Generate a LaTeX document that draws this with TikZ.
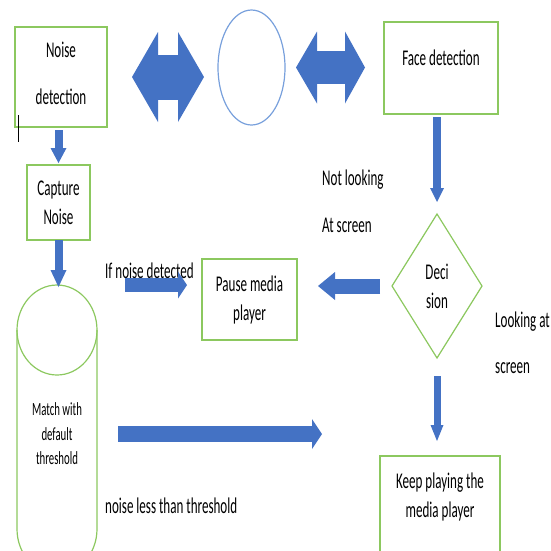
\documentclass[tikz,border=0pt]{standalone}
\usepackage{fontspec}
\setmainfont{Carlito}[FakeStretch=0.58]
\usetikzlibrary{calc,arrows.meta,shapes.geometric}
\definecolor{boxgreen}{RGB}{140,200,95}
\definecolor{arrowblue}{RGB}{68,114,196}
\definecolor{ringblue}{RGB}{120,160,220}
\tikzset{
  box/.style={draw=boxgreen,line width=1.2pt,fill=white,align=center,
    inner sep=0pt,outer sep=0pt,font=\fontsize{22.5}{29}\selectfont},
  decbox/.style={box,diamond},
  blk/.style={draw=arrowblue,line width=#1},
  txt/.style={inner sep=0pt,align=left,font=\fontsize{22.5}{29}\selectfont}
}

\begin{document}
\begin{tikzpicture}[x=1pt,y=-1pt]
\useasboundingbox (0,0) rectangle (551,550);
\clip (0,0) rectangle (551,550);

% Top row: noise detection, hub, face detection
\node[box,minimum width=92pt,minimum height=100pt,text depth=8pt] (noise) at (61,77) {Noise\\[18pt]detection};
\node[draw=ringblue,line width=1.2pt,ellipse,minimum width=67pt,minimum height=115pt,inner sep=0pt,outer sep=0pt] (hub) at (251.5,67.5) {};
\node[box,minimum width=114pt,minimum height=92pt,text height=14pt,text depth=20pt] (face) at (441,68) {Face detection};
\draw[line width=0.8pt] (18,115) -- (18,142);

% Left column
\node[box,minimum width=63pt,minimum height=75pt] (capture) at (58.5,202.5) {Capture\\Noise};
\node[inner sep=0pt,outer sep=0pt,minimum width=80pt,minimum height=298pt,align=center,
  font=\fontsize{18.6}{24.5}\selectfont] (match) at (57,434) {Match with\\default\\threshold};
\draw[boxgreen,line width=1.2pt] (17,330) arc[start angle=180,end angle=0,x radius=40pt,y radius=45pt]
  -- (97,529) arc[start angle=0,end angle=-180,x radius=40pt,y radius=45pt] -- cycle;
\draw[boxgreen,line width=1.2pt] (17,330) arc[start angle=180,end angle=360,x radius=40pt,y radius=45pt];

% Middle and right
\node[box,minimum width=95pt,minimum height=81pt] (pause) at (249.5,299.5) {Pause media\\player};
\node[decbox,minimum width=90pt,minimum height=144pt] (dec) at (437,286) {Deci\\sion};
\node[box,anchor=north,minimum width=120pt,inner ysep=17pt,text depth=90pt] (keep) at (440,456) {Keep playing the\\media player};

% Free labels
\node[txt,anchor=west] (notlook) at (322,201.5) {Not looking\\[18pt]At screen};
\node[txt,anchor=west] (look) at (495,342.5) {Looking at\\[17pt]screen};
\node[txt,anchor=base west] (ifnoise) at (105,278) {If noise detected};
\node[txt,anchor=base west] (less) at (105,513) {noise less than threshold};

% Block arrows
\draw[blk=45pt,{Triangle[length=26pt,width=90pt,line width=0pt]}-{Triangle[length=26pt,width=90pt,line width=0pt]},
  shorten <=25pt,shorten >=14pt,yshift=-1pt] (noise.east) -- (noise.east -| hub.west);
\draw[blk=33pt,{Triangle[length=21pt,width=72pt,line width=0pt]}-{Triangle[length=20pt,width=72pt,line width=0pt]},
  shorten <=11pt,shorten >=19pt,yshift=-16pt] (hub.east) -- (hub.east -| face.west);
\draw[blk=8pt,-{Triangle[length=15pt,width=16pt,line width=0pt]},shorten <=3pt,shorten >=2pt]
  (noise.south -| capture.north) -- (capture.north);
\draw[blk=8pt,-{Triangle[length=17pt,width=16pt,line width=0pt]},shorten >=-2pt]
  (capture.south) -- (capture.south |- match.north);
\draw[blk=8pt,-{Triangle[length=14pt,width=14pt,line width=0pt]},shorten <=3pt,shorten >=12pt]
  (face.south -| dec.north) -- (dec.north);
\draw[blk=7pt,-{Triangle[length=16pt,width=13pt,line width=0pt]},shorten <=18pt,shorten >=15pt]
  (dec.south) -- (dec.south |- keep.north);
\draw[blk=15pt,-{Triangle[length=17pt,width=28pt,line width=0pt]},shorten <=12pt,shorten >=21pt,yshift=-14pt]
  (dec.west) -- (dec.west -| pause.east);
\draw[blk=14pt,-{Triangle[length=9pt,width=27pt,line width=0pt]},shorten <=28pt,shorten >=15pt,yshift=-36pt]
  (match.north east) -- (match.north east -| pause.west);
\draw[blk=16pt,-{Triangle[length=10pt,width=30pt,line width=0pt]},shorten <=21pt,shorten >=58pt,yshift=-31pt]
  (match.east) -- (match.east -| keep.west);
\end{tikzpicture}
\end{document}
